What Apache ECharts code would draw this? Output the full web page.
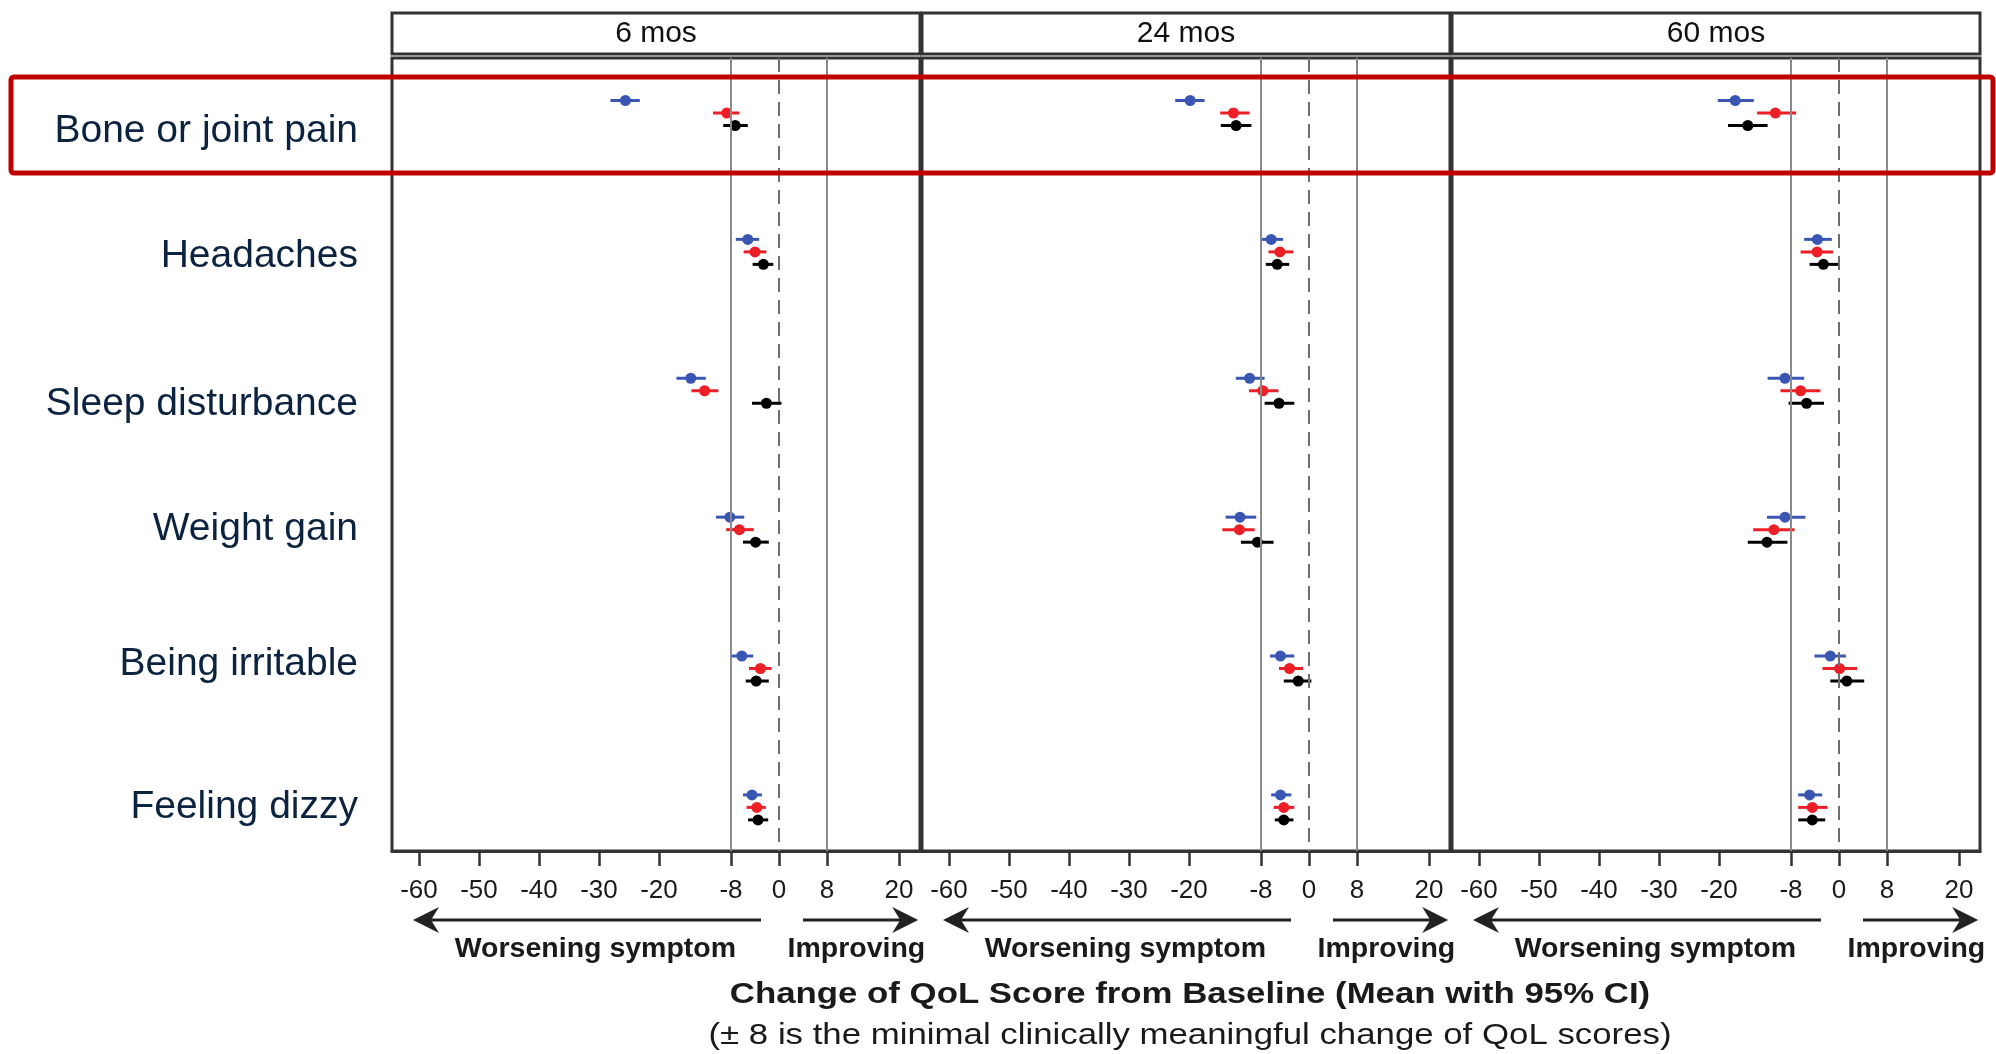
<!DOCTYPE html>
<html>
<head>
<meta charset="utf-8">
<title>Change of QoL score from baseline</title>
<script src="https://cdn.jsdelivr.net/npm/echarts@6/dist/echarts.min.js"></script>
<style>
  html, body { margin: 0; padding: 0; background: #fff; }
  #chart { width: 1996px; height: 1054px; }
</style>
</head>
<body>
<div id="chart"></div>
<script>
// rows (top to bottom) and panels
const symptoms = ['Bone or joint pain', 'Headaches', 'Sleep disturbance', 'Weight gain', 'Being irritable', 'Feeling dizzy']
const timepoints = ['6 mos', '24 mos', '60 mos']
const xTicks = [-60, -50, -40, -30, -20, -8, 0, 8, 20]

// mean change with 95% CI, three groups (blue / red / black)
// 6 months
const blueMean6 = [-25.6, -5.2, -14.7, -8.2, -6.2, -4.5]
const blueCI6 = [[-28.1, -23.2], [-7.2, -3.3], [-17.1, -12.2], [-10.5, -5.8], [-8.0, -4.3], [-6.0, -2.85]]
const redMean6 = [-8.7, -4.0, -12.4, -6.6, -3.1, -3.7]
const redCI6 = [[-11.0, -6.6], [-5.9, -2.1], [-14.6, -10.1], [-8.8, -4.2], [-5.0, -1.25], [-5.4, -2.2]]
const blackMean6 = [-7.3, -2.6, -2.1, -3.9, -3.8, -3.5]
const blackCI6 = [[-9.3, -5.2], [-4.4, -0.95], [-4.5, 0.4], [-6.0, -1.7], [-5.55, -1.7], [-5.15, -1.8]]
// 24 months
const blueMean24 = [-19.8, -6.3, -9.9, -11.5, -4.75, -4.75]
const blueCI24 = [[-22.3, -17.4], [-8.1, -4.3], [-12.2, -7.4], [-13.9, -8.8], [-6.5, -2.45], [-6.3, -2.95]]
const redMean24 = [-12.6, -4.85, -7.7, -11.6, -3.25, -4.2]
const redCI24 = [[-14.8, -9.9], [-6.75, -2.6], [-10.0, -5.1], [-14.45, -9.05], [-5.0, -1.0], [-5.9, -2.45]]
const blackMean24 = [-12.15, -5.3, -5.0, -8.6, -1.8, -4.2]
const blackCI24 = [[-14.7, -9.6], [-7.2, -3.3], [-7.4, -2.45], [-11.35, -5.9], [-4.2, 0.4], [-5.7, -2.6]]
// 60 months
const blueMean60 = [-17.3, -3.6, -9.0, -9.0, -1.45, -4.9]
const blueCI60 = [[-20.2, -14.2], [-5.8, -1.2], [-11.9, -5.8], [-12.0, -5.6], [-4.1, 1.15], [-6.8, -2.8]]
const redMean60 = [-10.6, -3.65, -6.4, -10.85, 0.1, -4.45]
const redCI60 = [[-13.65, -7.15], [-6.4, -1.0], [-9.75, -3.1], [-14.3, -7.4], [-2.75, 3.0], [-6.8, -1.9]]
const blackMean60 = [-15.2, -2.6, -5.4, -12.0, 1.3, -4.45]
const blackCI60 = [[-18.5, -11.9], [-4.9, 0], [-8.4, -2.5], [-15.2, -8.6], [-1.45, 4.2], [-6.8, -2.3]]

const panelData = [
  [[blueMean6, blueCI6], [redMean6, redCI6], [blackMean6, blackCI6]],
  [[blueMean24, blueCI24], [redMean24, redCI24], [blackMean24, blackCI24]],
  [[blueMean60, blueCI60], [redMean60, redCI60], [blackMean60, blackCI60]]
]

// layout / style
const FONT = "'Liberation Sans', Arial, sans-serif"
const gridLeft = [392, 922, 1452]
const gridWidth = 528
const groups = [
  { color: '#3a56b3', offset: -0.09 },
  { color: '#ec1f27', offset: 0 },
  { color: '#000000', offset: 0.09 }
]
// where the row names sit (in row units)
const labelRow = [0.13, 1.03, 2.1, 3.0, 3.97, 5.0]

const grid = gridLeft.map(left => ({
  left: left, top: 58, width: gridWidth, height: 793,
  show: true, borderColor: '#333', borderWidth: 3, backgroundColor: '#fff'
}))

const xAxis = gridLeft.map((l, p) => ({
  type: 'value', gridIndex: p, min: -64.5, max: 23.5,
  axisLine: { show: true, onZero: false, lineStyle: { color: '#333', width: 3 } },
  axisTick: { show: true, customValues: xTicks, length: 15, lineStyle: { color: '#333', width: 2.5 } },
  axisLabel: { customValues: xTicks, fontSize: 26, color: '#1a1a1a', margin: 27, fontFamily: FONT },
  splitLine: { show: false }
}))

const yAxis = gridLeft.map((l, p) => ({
  type: 'value', gridIndex: p, inverse: true, min: -0.396, max: 5.314,
  axisLine: { show: false, onZero: false },
  axisTick: { show: false },
  splitLine: { show: false },
  axisLabel: p === 0 ? {
    customValues: labelRow,
    formatter: v => symptoms[Math.round(v)],
    fontSize: 39, color: '#0c2340', margin: 34, fontFamily: FONT
  } : { show: false }
}))

const series = []
panelData.forEach((panel, p) => {
  // reference lines at -8 / +8 (solid) and 0 (dashed)
  series.push({
    type: 'line', xAxisIndex: p, yAxisIndex: p, data: [], silent: true, z: 1,
    markLine: {
      silent: true, symbol: 'none', label: { show: false },
      lineStyle: { color: '#8a8a8a', width: 2, type: 'solid' },
      data: [
        { xAxis: -8 },
        { xAxis: 8 },
        { xAxis: 0, lineStyle: { color: '#6e6e6e', width: 2, type: [14, 8] } }
      ]
    }
  })
  panel.forEach(([means, cis], g) => {
    const { color, offset } = groups[g]
    series.push({
      type: 'custom', xAxisIndex: p, yAxisIndex: p, silent: true, z: 3,
      data: cis.map((ci, i) => [ci[0], ci[1], i + offset]),
      encode: { x: [0, 1], y: 2 },
      renderItem: (params, api) => {
        const a = api.coord([api.value(0), api.value(2)])
        const b = api.coord([api.value(1), api.value(2)])
        return {
          type: 'line',
          shape: { x1: a[0], y1: a[1], x2: b[0], y2: b[1] },
          style: { stroke: color, lineWidth: 3 }
        }
      }
    })
    series.push({
      type: 'scatter', xAxisIndex: p, yAxisIndex: p, silent: true, z: 4,
      symbolSize: 11,
      itemStyle: { color: color, opacity: 1 },
      data: means.map((m, i) => [m, i + offset])
    })
  })
})

const chart = echarts.init(document.getElementById('chart'))
chart.setOption({
  backgroundColor: '#fff',
  animation: false,
  grid, xAxis, yAxis, series
})

// headers, arrows and titles
const graphic = []
const arrowY = 920
function arrow(from, tip) {
  const d = tip > from ? 1 : -1
  return [
    { type: 'line', shape: { x1: from, y1: arrowY, x2: tip - d * 18, y2: arrowY }, style: { stroke: '#222', lineWidth: 3 } },
    { type: 'polygon', shape: { points: [[tip, arrowY], [tip - d * 26, arrowY - 13], [tip - d * 18, arrowY], [tip - d * 26, arrowY + 13]] }, style: { fill: '#222' } }
  ]
}
timepoints.forEach((t, p) => {
  const px = v => chart.convertToPixel({ xAxisIndex: p }, v)
  graphic.push({ type: 'rect', shape: { x: gridLeft[p], y: 13, width: gridWidth, height: 41 }, style: { fill: '#fff', stroke: '#333', lineWidth: 3 } })
  graphic.push({ type: 'text', x: gridLeft[p] + gridWidth / 2, y: 34, style: { text: t, align: 'center', verticalAlign: 'middle', font: '30px ' + FONT, fill: '#111' } })
  arrow(px(-3), px(-61)).forEach(e => graphic.push(e))
  arrow(px(4), px(23.2)).forEach(e => graphic.push(e))
  graphic.push({ type: 'text', x: px(-30.6), y: 949, style: { text: 'Worsening symptom', align: 'center', verticalAlign: 'middle', font: 'bold 28.5px ' + FONT, fill: '#1a1a1a' } })
  graphic.push({ type: 'text', x: px(12.9), y: 949, style: { text: 'Improving', align: 'center', verticalAlign: 'middle', font: 'bold 28.5px ' + FONT, fill: '#1a1a1a' } })
})
graphic.push({ type: 'text', x: 1190, y: 995, scaleX: 1.2, style: { text: 'Change of QoL Score from Baseline (Mean with 95% CI)', align: 'center', verticalAlign: 'middle', font: 'bold 29px ' + FONT, fill: '#1a1a1a' } })
graphic.push({ type: 'text', x: 1190, y: 1036, scaleX: 1.16, style: { text: '(± 8 is the minimal clinically meaningful change of QoL scores)', align: 'center', verticalAlign: 'middle', font: '30px ' + FONT, fill: '#1a1a1a' } })
// highlight box round the first row
graphic.push({ type: 'rect', z: 100, shape: { x: 11, y: 77, width: 1982, height: 96, r: 3 }, style: { fill: 'none', stroke: '#c00000', lineWidth: 5 } })

chart.setOption({ graphic: graphic })
</script>
</body>
</html>
